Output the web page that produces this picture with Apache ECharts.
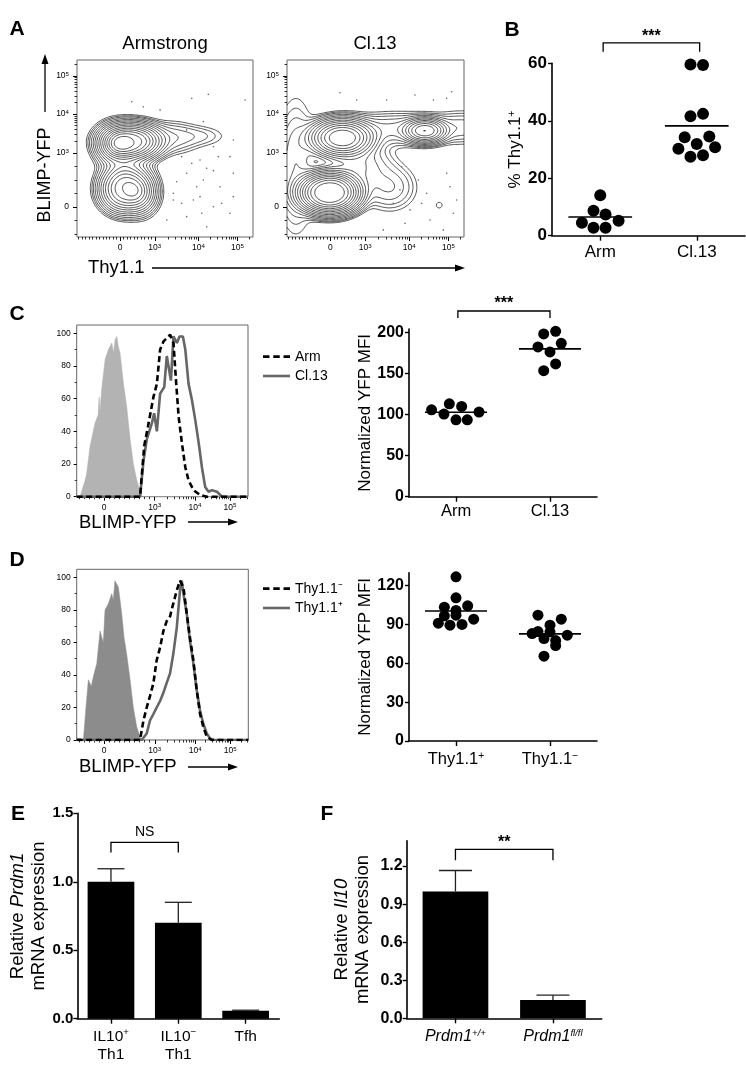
<!DOCTYPE html>
<html><head><meta charset="utf-8">
<script src="https://cdn.jsdelivr.net/npm/echarts@6/dist/echarts.min.js"></script>
<style>html,body{margin:0;padding:0;background:#fff}#c{width:746px;height:1074px}</style>
</head><body><div id="c"></div>
<script>
const FF = "'Liberation Sans', Arial, Helvetica, sans-serif";

// ---------------- Panel A (flow cytometry contour plots, display units 0-100) ----------------
const flowTickLabels = ['0', '10^{3}', '10^{4}', '10^{5}'];
const aXTickPos = [24.5, 44.2, 69, 91.2];
const aYTickPos = [17, 47.5, 69.5, 91];
// clusters: [centerX, centerY, spreadX, spreadY, weight, shape]
const armClusters = [
  [31, 54, 10.5, 6.3, 1.0, 1.3],
  [22, 52, 5.5, 5.5, 0.45, 1],
  [27, 27, 8.5, 8, 0.7, 1.3],
  [36, 25, 5, 6, 0.3, 1],
  [28, 40, 7, 10, 0.12, 1],
  [53, 56, 9, 5, 0.06, 1],
  [70, 57, 9, 3.5, 0.025, 1]
];
const cl13Clusters = [
  [24, 25, 12, 8, 1.0, 1.5],
  [31, 56, 11, 6.5, 0.7, 1.3],
  [78, 60, 7, 4, 0.45, 1.2],
  [62, 61, 18, 5, 0.06, 1],
  [100, 62, 10, 5, 0.04, 1],
  [40, 40, 10, 8, 0.08, 1],
  [58, 28, 8, 7, 0.05, 1],
  [86, 18, 1.8, 1.8, 0.012, 1],
  [5, 40, 6, 20, 0.05, 1]
];
const contourLevels = [0.008, 0.013, 0.02, 0.032, 0.05, 0.075, 0.11, 0.16, 0.22, 0.3, 0.39, 0.49, 0.6, 0.72, 0.85];
const armEvents = [[31.1,76.4],[65.2,78.4],[74.6,80.6],[95.5,77.4],[62.3,60.5],[71.8,65.2],[88.8,54.8],[77.5,51],[69.9,43.5],[86.9,45.4],[62.3,36],[71.8,32.2],[81.3,28.4],[88.8,22.8],[54.7,20.9],[66.1,20.9],[77.5,17.1],[62.3,11.5],[86.9,13.4],[51,9.6],[73.7,5.8],[54.7,24.7],[59.5,45.4],[77.5,37.5],[88.8,36],[68,28.4],[80.3,45.4],[56.6,31.2],[47.2,71.8],[37.7,73.6],[69.9,22.8],[73.7,38.8],[65.2,41.6],[59.5,19],[82.2,19],[70.9,13.4]];
const cl13Events = [[29.9,81.5],[56.3,77.4],[72.3,80.2],[82.7,77.4],[93,82.1],[90.2,78.4],[39.4,77.4],[64.8,39.7],[74.2,32.2],[63.8,26.6],[78.9,24.7],[92.1,28.4],[69.5,15.3],[80.8,9.6],[94,13.4],[66.7,7.7],[60.1,19],[95.9,20.9],[54.4,4],[88.3,4],[76.1,19],[90.2,36]];

// ---------------- Panel B ----------------
const bCategories = ['Arm', 'Cl.13'];
const bArm = [14.1, 8.7, 7.4, 5.2, 4.5, 2.8, 2.8];
const bCl13 = [59.6, 59.4, 42.4, 41.6, 34.5, 34.3, 31.9, 30.8, 30.3, 28.0, 27.5];
const bYTicks = [0, 20, 40, 60];

// ---------------- Panel C ----------------
const histTickPos = [16, 45.5, 69, 89.5];
const histYTicks = [0, 20, 40, 60, 80, 100];
const cControl = [[0,0],[1.9,0],[4.9,10],[5.8,14],[7.8,31],[10.7,45],[12.5,50],[13.1,61],[13.6,52],[14.6,66],[16.6,84],[18.5,90],[20.5,94],[21.5,88],[22.4,96],[23.4,98],[24.3,92],[25.3,88],[27.3,69],[29.2,55],[31.2,35],[33.1,20],[35.1,10],[37,3],[38,0],[100,0]];
const cArm = [[0,0],[37,0],[39.4,31],[42,45],[44.8,61],[46.8,69],[48.7,90],[50.7,95],[52.6,97],[54.6,99],[56.5,94],[58.1,69],[59.5,49],[61.4,33],[63.4,18],[65.3,10],[68.2,4],[72.1,1],[76,0],[100,0]];
const cCl13 = [[0,0],[37,0],[39,22],[40.9,35],[43.9,45],[45.2,51],[46.8,40],[48.7,63],[51.1,67],[52.6,86],[53.6,87],[55,71],[56.5,98],[58.5,94],[60,98],[62,98],[63.4,90],[65.3,69],[67.3,59],[69.2,47],[71.2,33],[73.1,18],[75,6],[77,3],[79,4],[81.9,3],[84.8,0],[100,0]];
const cMfiCategories = ['Arm', 'Cl.13'];
const cMfiArm = [105.7, 113, 109.8, 100.5, 93.5, 93.5, 102.9];
const cMfiCl13 = [198, 201.2, 182.2, 186.6, 176.1, 161.5, 153.3];
const cMfiYTicks = [0, 50, 100, 150, 200];

// ---------------- Panel D ----------------
const dControl = [[0,1],[2,1],[3.9,0],[5.4,20],[6.8,37],[7.4,38],[8.5,33],[9.7,39],[11.7,47],[13.6,67],[14.6,68],[15.5,60],[16.5,80],[18.5,84],[20.4,90],[21.3,86],[22.3,98],[23.3,98],[24.3,94],[26.2,78],[27.6,63],[29.1,53],[31.1,37],[33,20],[35,8],[36.9,2],[37.9,0],[100,0]];
const dThyNeg = [[0,0],[36.9,0],[38.9,12],[40.8,20],[42.7,27],[44.7,35],[46.6,49],[48.6,57],[50.5,67],[52.4,73],[54.4,76],[56.3,84],[58.3,92],[60.2,98],[61.2,98],[62.2,94],[64.1,78],[66,63],[68,49],[69.9,31],[71.9,16],[73.8,8],[75.8,2],[78.7,0],[100,0]];
const dThyPos = [[0,0],[37.9,0],[40.8,4],[42.7,12],[44.7,16],[46.6,20],[48.6,24],[50.5,29],[52.4,35],[54.4,41],[56.3,53],[58.3,69],[60.2,92],[61.2,98],[62.2,90],[64.1,78],[66,61],[68,47],[69.9,31],[71.9,18],[73.8,10],[75.8,4],[77.7,1],[79.6,0],[100,0]];
const dMfiCategories = ['Thy1.1^{+}', 'Thy1.1^{\u2212}'];
const dMfiPos = [126.8, 110.6, 104.4, 103.4, 100.8, 97.2, 96.7, 94.1, 91, 90, 89.5];
const dMfiNeg = [97.2, 94.1, 89.5, 84.5, 84.3, 83, 81.7, 79.1, 77.6, 73.7, 65.5];
const dMfiYTicks = [0, 30, 60, 90, 120];

// ---------------- Panel E ----------------
const eCategories = ['IL10^{+}\nTh1', 'IL10^{\u2212}\nTh1', 'Tfh'];
const eValues = [1.0, 0.70, 0.058];
const eErrors = [0.095, 0.15, 0.004];
const eYTicks = [0, 0.5, 1.0, 1.5];

// ---------------- Panel F ----------------
const fCategories = ['Prdm1^{+/+}', 'Prdm1^{fl/fl}'];
const fValues = [1.0, 0.145];
const fErrors = [0.165, 0.037];
const fYTicks = [0, 0.3, 0.6, 0.9, 1.2];

// ---------- layout-only jitter of dots (category units) ----------
const bArmJit = [0, -0.07, 0.055, 0.19, -0.19, -0.07, 0.055];
const bCl13Jit = [-0.065, 0.065, 0.065, -0.065, 0.13, -0.125, 0, 0.19, -0.19, 0.065, -0.065];
const cArmJit = [-0.26, -0.071, 0.06, -0.128, 0, 0.12, 0.245];
const cCl13Jit = [-0.067, 0.06, -0.128, 0.12, 0, 0.06, -0.067];
const dPosJit = [0, 0, 0.124, -0.124, 0, 0, -0.124, 0.188, -0.188, 0.064, -0.064];
const dNegJit = [-0.128, 0.12, 0, -0.128, 0, -0.19, 0.184, -0.064, 0.06, 0.06, -0.064];

// ================= helpers =================
function richText(str, b, s) {
  return str.split('\n').map(line => {
    let out = '', last = 0, m; const re = /\^\{([^}]*)\}/g;
    while ((m = re.exec(line))) {
      if (m.index > last) out += '{' + b + '|' + line.slice(last, m.index) + '}';
      out += '{' + s + '|' + m[1] + '}'; last = re.lastIndex;
    }
    if (last < line.length) out += '{' + b + '|' + line.slice(last) + '}';
    return out;
  }).join('\n');
}
function flowMinor(major, steps) {
  const [d0, d3, d4, d5] = major, out = [], st = (d3 - d0) / steps;
  for (let v = d0 - st; v > 0.5; v -= st) out.push(v);
  for (let k = 1; k < steps; k++) out.push(d0 + k * st);
  for (const [a, b] of [[d3, d4], [d4, d5]]) for (let m = 2; m <= 9; m++) out.push(a + (b - a) * Math.log10(m));
  for (let m = 2; m <= 9; m++) { const v = d5 + (d5 - d4) * Math.log10(m); if (v < 99.5) out.push(v); }
  return out;
}
function contourSegments(clusters, levels, N) {
  const step = 100 / N, W = N + 1, f = new Float64Array(W * W); let max = 0;
  for (let j = 0; j < W; j++) for (let i = 0; i < W; i++) {
    const x = i * step, y = j * step; let s = 0;
    for (const c of clusters) { const dx = (x - c[0]) / c[2], dy = (y - c[1]) / c[3]; s += c[4] * Math.exp(-0.5 * Math.pow(dx * dx + dy * dy, c[5])); }
    f[j * W + i] = s; if (s > max) max = s;
  }
  const segs = [];
  for (const lv of levels) {
    const L = lv * max;
    for (let j = 0; j < N; j++) for (let i = 0; i < N; i++) {
      const a = f[j * W + i], b = f[j * W + i + 1], c = f[(j + 1) * W + i + 1], d = f[(j + 1) * W + i];
      const x0 = i * step, y0 = j * step, x1 = x0 + step, y1 = y0 + step, p = [];
      if ((a >= L) !== (b >= L)) p.push([x0 + step * (L - a) / (b - a), y0]);
      if ((b >= L) !== (c >= L)) p.push([x1, y0 + step * (L - b) / (c - b)]);
      if ((d >= L) !== (c >= L)) p.push([x0 + step * (L - d) / (c - d), y1]);
      if ((a >= L) !== (d >= L)) p.push([x0, y0 + step * (L - a) / (d - a)]);
      if (p.length === 2) segs.push({ coords: [p[0], p[1]] });
      else if (p.length === 4) { segs.push({ coords: [p[0], p[1]] }); segs.push({ coords: [p[2], p[3]] }); }
    }
  }
  return segs;
}
const supRich = (fs) => ({ n: { fontSize: fs, fontFamily: FF, color: '#000' }, s: { fontSize: fs * 0.72, fontFamily: FF, color: '#000', verticalAlign: 'top' } });
function flowLabel(v, ticks) {
  let i = 0, best = 1e9; ticks.forEach((t, k) => { if (Math.abs(t - v) < best) { best = Math.abs(t - v); i = k; } });
  return richText(flowTickLabels[i], 'n', 's');
}

const grids = [
  { left: 77, top: 60, width: 176, height: 177 },
  { left: 287, top: 60, width: 177, height: 177 },
  { left: 552, top: 63.3, width: 193, height: 172.4 },
  { left: 76.7, top: 325, width: 171.3, height: 171.7 },
  { left: 409, top: 329, width: 188, height: 167.7 },
  { left: 76.7, top: 569.3, width: 171.6, height: 170.7 },
  { left: 409, top: 572.7, width: 188, height: 168.3 },
  { left: 77.3, top: 813.3, width: 202, height: 205.4 },
  { left: 406.7, top: 840.7, width: 195, height: 177.6 }
].map((g, i) => Object.assign({ containLabel: false, outerBoundsMode: 'none',
  show: [0, 1, 3, 5].includes(i), borderColor: '#666', borderWidth: 1, backgroundColor: 'transparent' }, g));

const xAxes = [], yAxes = [], series = [];
const addX = o => (xAxes.push(o), xAxes.length - 1);
const addY = o => (yAxes.push(o), yAxes.length - 1);

function flowAxes(gi, xt, yt, xSteps, ySteps, yMax, yTicks, fs) {
  const base = { gridIndex: gi, type: 'value', splitLine: { show: false }, axisLine: { show: false } };
  const xi = addX(Object.assign({}, base, { min: 0, max: 100, position: 'bottom',
    axisTick: { show: true, customValues: xt, length: 4, lineStyle: { color: '#000', width: 1 } },
    axisLabel: { show: true, customValues: xt, margin: 6, formatter: v => flowLabel(v, xt), rich: supRich(fs) } }));
  addX(Object.assign({}, base, { min: 0, max: 100, position: 'bottom',
    axisTick: { show: true, customValues: flowMinor(xt, xSteps), length: 2.5, lineStyle: { color: '#000', width: 0.8 } },
    axisLabel: { show: false } }));
  let yi;
  if (yt) {
    yi = addY(Object.assign({}, base, { min: 0, max: 100, position: 'left',
      axisTick: { show: true, customValues: yt, length: 4, lineStyle: { color: '#000', width: 1 } },
      axisLabel: { show: true, customValues: yt, margin: 8, formatter: v => flowLabel(v, yt), rich: supRich(fs) } }));
    addY(Object.assign({}, base, { min: 0, max: 100, position: 'left',
      axisTick: { show: true, customValues: flowMinor(yt, ySteps), length: 2.5, lineStyle: { color: '#000', width: 0.8 } },
      axisLabel: { show: false } }));
  } else {
    yi = addY(Object.assign({}, base, { min: 0, max: yMax, position: 'left',
      axisTick: { show: true, customValues: yTicks, length: 3, lineStyle: { color: '#000', width: 1 } },
      axisLabel: { show: true, customValues: yTicks, margin: 6, fontSize: fs, fontFamily: FF, color: '#000' } }));
    addY(Object.assign({}, base, { min: 0, max: yMax, position: 'left',
      axisTick: { show: true, customValues: [10, 30, 50, 70, 90], length: 2, lineStyle: { color: '#000', width: 0.8 } },
      axisLabel: { show: false } }));
  }
  return [xi, yi];
}

function dotAxes(gi, cats, yMax, yTicks, o) {
  const xi = addX({ gridIndex: gi, type: 'value', min: -0.5, max: 1.5, position: 'bottom', splitLine: { show: false },
    axisLine: { show: true, onZero: false, lineStyle: { color: '#000', width: 1.6 } },
    axisTick: { show: true, customValues: [0, 1], length: 5, lineStyle: { color: '#000', width: 1.4 } },
    axisLabel: { show: true, customValues: [0, 1], margin: o.xMargin, formatter: v => richText(cats[Math.round(v)], 'c', 'cs'),
      rich: { c: { fontSize: o.xFont, fontFamily: FF, color: '#000' }, cs: { fontSize: o.xFont * 0.62, fontFamily: FF, color: '#000', verticalAlign: 'top' } } } });
  const yi = addY({ gridIndex: gi, type: 'value', min: 0, max: yMax, position: 'left', splitLine: { show: false },
    axisLine: { show: true, onZero: false, lineStyle: { color: '#000', width: 1.6 } },
    axisTick: { show: true, customValues: yTicks, length: 4, lineStyle: { color: '#000', width: 1.4 } },
    axisLabel: { show: true, customValues: yTicks, margin: o.yMargin, fontSize: o.yFont, fontWeight: 'bold', fontFamily: FF, color: '#000' },
    name: o.name, nameLocation: 'middle', nameGap: o.nameGap,
    nameTextStyle: { rich: { n: { fontSize: o.nameFont, fontFamily: FF, color: '#000' }, ns: { fontSize: o.nameFont * 0.62, fontFamily: FF, color: '#000', verticalAlign: 'top' } } } });
  return [xi, yi];
}

function scatterS(xi, yi, cat, vals, jit, size) {
  return { type: 'scatter', xAxisIndex: xi, yAxisIndex: yi, symbolSize: size, silent: true,
    itemStyle: { color: '#000', opacity: 1 }, data: vals.map((v, i) => [cat + jit[i], v]) };
}
function meanS(xi, yi, groups) {
  return { type: 'custom', xAxisIndex: xi, yAxisIndex: yi, clip: false, silent: true,
    data: groups.map((g, i) => [i, g.reduce((a, b) => a + b, 0) / g.length]),
    renderItem(p, api) {
      const x = api.value(0), m = api.value(1), a = api.coord([x - 0.33, m]), b = api.coord([x + 0.33, m]);
      return { type: 'line', shape: { x1: a[0], y1: a[1], x2: b[0], y2: b[1] }, style: { stroke: '#000', lineWidth: 1.6 } };
    } };
}
function bracketS(xi, yi, x1, x2, yTop, yLeg, text, font, weight, gap) {
  return { type: 'custom', xAxisIndex: xi, yAxisIndex: yi, clip: false, silent: true, data: [[x1, yTop, x2, yLeg]],
    renderItem(p, api) {
      const a = api.coord([api.value(0), api.value(1)]), b = api.coord([api.value(2), api.value(1)]);
      const la = api.coord([api.value(0), api.value(3)]), lb = api.coord([api.value(2), api.value(3)]);
      return { type: 'group', children: [
        { type: 'polyline', shape: { points: [la, a, b, lb] }, style: { stroke: '#000', lineWidth: 1.3, fill: null } },
        { type: 'text', style: { text: text, x: (a[0] + b[0]) / 2, y: a[1] - gap, align: 'center', verticalAlign: 'bottom',
          fontSize: font, fontWeight: weight, fontFamily: FF, fill: '#000' } }] };
    } };
}
function errS(xi, yi, vals, errs, hw) {
  return { type: 'custom', xAxisIndex: xi, yAxisIndex: yi, clip: false, silent: true, z: 3,
    data: vals.map((v, i) => [i, v, errs[i]]),
    renderItem(p, api) {
      const b = api.coord([api.value(0), api.value(1)]), t = api.coord([api.value(0), api.value(1) + api.value(2)]);
      return { type: 'group', children: [
        { type: 'line', shape: { x1: b[0], y1: b[1], x2: t[0], y2: t[1] }, style: { stroke: '#222', lineWidth: 1.3 } },
        { type: 'line', shape: { x1: t[0] - hw, y1: t[1], x2: t[0] + hw, y2: t[1] }, style: { stroke: '#222', lineWidth: 1.3 } }] };
    } };
}

// ---- Panel A ----
const [a1x, a1y] = flowAxes(0, aXTickPos, aYTickPos, 10, 4, 100, null, 8.5);
const [a2x, a2y] = flowAxes(1, aXTickPos, aYTickPos, 10, 4, 100, null, 8.5);
[[a1x, a1y, armEvents, armClusters], [a2x, a2y, cl13Events, cl13Clusters]].forEach(([xi, yi, ev, cl]) => {
  series.push({ type: 'scatter', xAxisIndex: xi, yAxisIndex: yi, symbolSize: 1.6, silent: true, itemStyle: { color: '#666', opacity: 1 }, data: ev });
  series.push({ type: 'lines', coordinateSystem: 'cartesian2d', xAxisIndex: xi, yAxisIndex: yi, silent: true,
    large: true, largeThreshold: 100, lineStyle: { color: '#000', width: 0.75, opacity: 0.9 },
    data: contourSegments(cl, contourLevels, 150) });
});

// ---- Panel B ----
const [bx, by] = dotAxes(2, bCategories, 60, bYTicks, { xMargin: 8, xFont: 17, yMargin: 5, yFont: 17, name: richText('% Thy1.1^{+}', 'n', 'ns'), nameGap: 28, nameFont: 17 });
series.push(scatterS(bx, by, 0, bArm, bArmJit, 12), scatterS(bx, by, 1, bCl13, bCl13Jit, 12), meanS(bx, by, [bArm, bCl13]),
  bracketS(bx, by, 0.03, 1.03, 67.1, 64, '***', 16, 'bold', -2));

// ---- Panel C ----
const [chx, chy] = flowAxes(3, histTickPos, null, 10, 4, 105, histYTicks, 8.5);
series.push({ type: 'line', name: 'ctrlC', xAxisIndex: chx, yAxisIndex: chy, data: cControl, symbol: 'none', silent: true,
  lineStyle: { width: 0.5, color: '#b3b3b3' }, areaStyle: { color: '#b3b3b3', opacity: 1 }, itemStyle: { color: '#b3b3b3' } });
series.push({ type: 'line', name: 'Cl.13', xAxisIndex: chx, yAxisIndex: chy, data: cCl13, symbol: 'none', silent: true,
  lineStyle: { width: 2.6, color: '#666' }, itemStyle: { color: '#666' } });
series.push({ type: 'line', name: 'Arm', xAxisIndex: chx, yAxisIndex: chy, data: cArm, symbol: 'none', silent: true,
  lineStyle: { width: 2.6, color: '#000', type: [6, 3.5] }, itemStyle: { color: '#000' } });
const [cdx, cdy] = dotAxes(4, cMfiCategories, 204, cMfiYTicks, { xMargin: 6, xFont: 16.5, yMargin: 5, yFont: 16, name: '{n|Normalized YFP MFI}', nameGap: 31, nameFont: 17 });
series.push(scatterS(cdx, cdy, 0, cMfiArm, cArmJit, 11), scatterS(cdx, cdy, 1, cMfiCl13, cCl13Jit, 11), meanS(cdx, cdy, [cMfiArm, cMfiCl13]),
  bracketS(cdx, cdy, 0.02, 1.0, 225.9, 217.4, '***', 16, 'bold', -1));

// ---- Panel D ----
const [dhx, dhy] = flowAxes(5, histTickPos, null, 10, 4, 105, histYTicks, 8.5);
series.push({ type: 'line', name: 'ctrlD', xAxisIndex: dhx, yAxisIndex: dhy, data: dControl, symbol: 'none', silent: true,
  lineStyle: { width: 0.5, color: '#8c8c8c' }, areaStyle: { color: '#8c8c8c', opacity: 1 }, itemStyle: { color: '#8c8c8c' } });
series.push({ type: 'line', name: 'Thy1.1\u207A', xAxisIndex: dhx, yAxisIndex: dhy, data: dThyPos, symbol: 'none', silent: true,
  lineStyle: { width: 2.6, color: '#666' }, itemStyle: { color: '#666' } });
series.push({ type: 'line', name: 'Thy1.1\u207B', xAxisIndex: dhx, yAxisIndex: dhy, data: dThyNeg, symbol: 'none', silent: true,
  lineStyle: { width: 2.6, color: '#000', type: [6, 3.5] }, itemStyle: { color: '#000' } });
const [ddx, ddy] = dotAxes(6, dMfiCategories, 130, dMfiYTicks, { xMargin: 10, xFont: 16.5, yMargin: 5, yFont: 16, name: '{n|Normalized YFP MFI}', nameGap: 31, nameFont: 17 });
series.push(scatterS(ddx, ddy, 0, dMfiPos, dPosJit, 11), scatterS(ddx, ddy, 1, dMfiNeg, dNegJit, 11), meanS(ddx, ddy, [dMfiPos, dMfiNeg]));

// ---- Panels E & F ----
function barAxes(gi, cats, yMax, yTicks, o) {
  const xi = addX({ gridIndex: gi, type: 'category', data: cats, position: 'bottom', boundaryGap: true,
    axisLine: { show: true, lineStyle: { color: '#000', width: 1.6 } },
    axisTick: { show: true, alignWithLabel: true, interval: 0, length: 5, lineStyle: { color: '#000', width: 1.4 } },
    axisLabel: { show: true, interval: 0, margin: o.xMargin, formatter: v => richText(v, o.base, o.sup),
      rich: { c: { fontSize: o.xFont, lineHeight: 18, fontFamily: FF, color: '#000' },
        cs: { fontSize: o.xFont * 0.62, fontFamily: FF, color: '#000', verticalAlign: 'top' },
        ci: { fontSize: o.xFont, fontStyle: 'italic', fontFamily: FF, color: '#000' },
        cis: { fontSize: o.xFont * 0.6, fontStyle: 'italic', fontFamily: FF, color: '#000', verticalAlign: 'top' } } } });
  const yi = addY({ gridIndex: gi, type: 'value', min: 0, max: yMax, position: 'left', splitLine: { show: false },
    axisLine: { show: true, onZero: false, lineStyle: { color: '#000', width: 1.6 } },
    axisTick: { show: true, customValues: yTicks, length: 4, lineStyle: { color: '#000', width: 1.4 } },
    axisLabel: { show: true, customValues: yTicks, margin: o.yMargin, formatter: v => v.toFixed(1), fontSize: o.yFont, fontWeight: 'bold', fontFamily: FF, color: '#000' },
    name: o.name, nameLocation: 'middle', nameGap: o.nameGap,
    nameTextStyle: { rich: { n: { fontSize: 18.5, lineHeight: 21, fontFamily: FF, color: '#000' }, i: { fontSize: 18.5, lineHeight: 21, fontStyle: 'italic', fontFamily: FF, color: '#000' } } } });
  return [xi, yi];
}
const [ex, ey] = barAxes(7, eCategories, 1.5, eYTicks, { xMargin: 9, xFont: 15.5, yMargin: 4, yFont: 15, base: 'c', sup: 'cs',
  name: '{n|Relative }{i|Prdm1}\n{n|mRNA expression}', nameGap: 28 });
series.push({ type: 'bar', xAxisIndex: ex, yAxisIndex: ey, data: eValues, barWidth: 46.7, silent: true, itemStyle: { color: '#000' } },
  errS(ex, ey, eValues, eErrors, 13.5), bracketS(ex, ey, 0, 1, 1.287, 1.213, 'NS', 14, 'normal', 3));
const [fx, fy] = barAxes(8, fCategories, 1.4, fYTicks, { xMargin: 10, xFont: 16, yMargin: 4, yFont: 16, base: 'ci', sup: 'cis',
  name: '{n|Relative }{i|Il10}\n{n|mRNA expression}', nameGap: 33 });
series.push({ type: 'bar', xAxisIndex: fx, yAxisIndex: fy, data: fValues, barWidth: 65.7, silent: true, itemStyle: { color: '#000' } },
  errS(fx, fy, fValues, fErrors, 16.5), bracketS(fx, fy, 0, 1, 1.331, 1.246, '**', 16, 'bold', -1));

// ---- annotation graphics ----
const T = (text, x, y, fs, opt) => Object.assign({ type: 'text', x: x, y: y, style: Object.assign({ text: text, fontSize: fs, fontFamily: FF, fill: '#000', align: 'center', verticalAlign: 'middle' }, opt || {}) });
const L = (x1, y1, x2, y2) => ({ type: 'line', shape: { x1, y1, x2, y2 }, style: { stroke: '#000', lineWidth: 1.3 } });
const P = pts => ({ type: 'polygon', shape: { points: pts }, style: { fill: '#000' } });
const graphic = [
  T('A', 17, 29, 21, { fontWeight: 'bold' }), T('B', 512, 30, 21, { fontWeight: 'bold' }),
  T('C', 17, 314, 21, { fontWeight: 'bold' }), T('D', 17, 560, 21, { fontWeight: 'bold' }),
  T('E', 18, 814, 21, { fontWeight: 'bold' }), T('F', 327, 814, 21, { fontWeight: 'bold' }),
  T('Armstrong', 165, 44, 18.5), T('Cl.13', 375, 44, 18.5),
  Object.assign(T('BLIMP-YFP', 0, 0, 18), { x: 45, y: 175, rotation: Math.PI / 2 }),
  L(45, 112, 45, 62), P([[45, 54], [41.5, 64], [48.5, 64]]),
  T('Thy1.1', 88, 268, 18.5, { align: 'left' }),
  L(152, 268, 456, 268), P([[465, 268], [455, 264.5], [455, 271.5]]),
  T('BLIMP-YFP', 79, 523, 18.5, { align: 'left' }),
  L(188, 522, 229, 522), P([[238, 522], [228, 518.5], [228, 525.5]]),
  T('BLIMP-YFP', 79, 767, 18.5, { align: 'left' }),
  L(188, 767, 229, 767), P([[238, 767], [228, 763.5], [228, 770.5]])
];

const DASH_ICON = 'path://M0 0h6v2.6h-6z M9.5 0h6v2.6h-6z M19 0h6v2.6h-6z';
const SOLID_ICON = 'path://M0 0h27v2.6h-27z';
const legendBase = { orient: 'vertical', left: 258, itemWidth: 27, itemHeight: 12, itemGap: 5.3, selectedMode: false, symbolKeepAspect: true,
  textStyle: { fontSize: 14, lineHeight: 12, fontFamily: FF, color: '#000' } };
const legend = [
  Object.assign({}, legendBase, { top: 344.7, data: [{ name: 'Arm', icon: DASH_ICON }, { name: 'Cl.13', icon: SOLID_ICON }] }),
  Object.assign({}, legendBase, { top: 576.7, data: [{ name: 'Thy1.1\u207B', icon: DASH_ICON }, { name: 'Thy1.1\u207A', icon: SOLID_ICON }] })
];

const chart = echarts.init(document.getElementById('c'), null, { renderer: 'canvas', width: 746, height: 1074 });
chart.setOption({ animation: false, backgroundColor: '#fff', grid: grids, xAxis: xAxes, yAxis: yAxes, series: series, legend: legend, graphic: graphic });
</script></body></html>
